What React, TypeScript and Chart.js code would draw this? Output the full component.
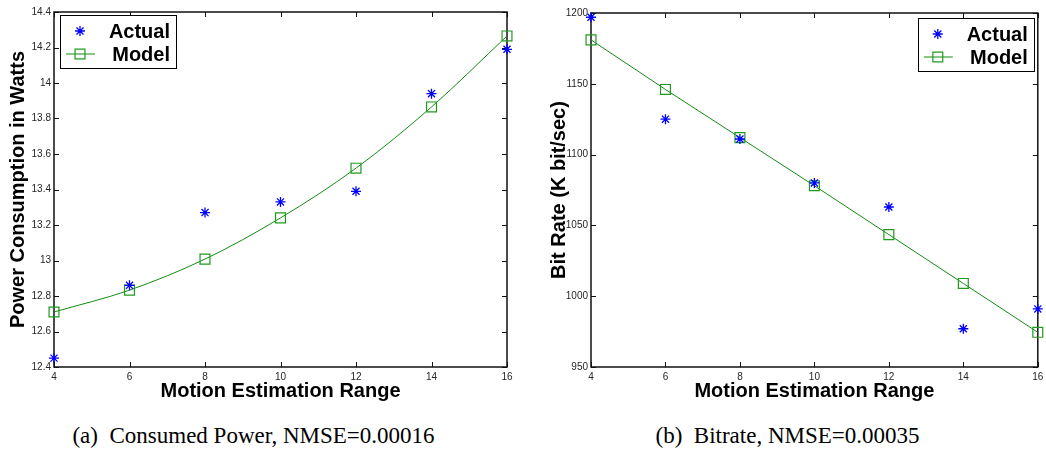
import React, { useEffect, useRef } from 'react';
import { Chart, registerables } from 'chart.js';
import { drawPoint } from 'chart.js/helpers';

Chart.register(...registerables);

// ---- data ----
const xRange = [4, 6, 8, 10, 12, 14, 16];
const xTicks = [4, 6, 8, 10, 12, 14, 16];

const powerActual = [12.45, 12.86, 13.27, 13.33, 13.39, 13.94, 14.19];
const powerModel = [12.71, 12.833, 13.008, 13.24, 13.52, 13.865, 14.265];
const powerTicks = [12.4, 12.6, 12.8, 13, 13.2, 13.4, 13.6, 13.8, 14, 14.2, 14.4];

const bitrateActual = [1197, 1125, 1111, 1080, 1063, 977, 991];
const bitrateModel = [1181, 1146, 1112, 1078, 1043.5, 1009, 974.5];
const bitrateTicks = [950, 1000, 1050, 1100, 1150, 1200];

const seriesLabels = ['Actual', 'Model'];
const xTitle = 'Motion Estimation Range';
const powerTitle = 'Power Consumption in Watts';
const bitrateTitle = 'Bit Rate (K bit/sec)';
const captionA = '(a)\u00a0 Consumed Power, NMSE=0.00016';
const captionB = '(b)\u00a0 Bitrate, NMSE=0.00035';

const SANS = '"Liberation Sans", Arial, sans-serif';
const SERIF = '"Liberation Serif", "Times New Roman", serif';
const BLUE = '#0000ff';
const GREEN_LINE = '#128c12';
const GREEN_MARK = '#1f9a1f';

const frameTicks = {
  id: 'frameTicks',
  beforeDatasetsDraw(chart: any) {
    const { ctx, chartArea: a, scales } = chart;
    const sx = scales.x;
    const sy = scales.y;
    const L = 5;
    ctx.save();
    ctx.strokeStyle = '#111';
    ctx.lineWidth = 1;
    ctx.beginPath();
    sx.ticks.forEach((t: any) => {
      const px = Math.round(sx.getPixelForValue(t.value)) + 0.5;
      ctx.moveTo(px, a.bottom);
      ctx.lineTo(px, a.bottom - L);
      ctx.moveTo(px, a.top);
      ctx.lineTo(px, a.top + L);
    });
    sy.ticks.forEach((t: any) => {
      const py = Math.round(sy.getPixelForValue(t.value)) + 0.5;
      ctx.moveTo(a.left, py);
      ctx.lineTo(a.left + L, py);
      ctx.moveTo(a.right, py);
      ctx.lineTo(a.right - L, py);
    });
    ctx.stroke();
    ctx.lineWidth = 1.5;
    ctx.strokeRect(a.left, a.top, a.right - a.left, a.bottom - a.top);
    ctx.restore();
  },
};

const boxLegend = {
  id: 'boxLegend',
  afterDraw(chart: any, _args: any, opts: any) {
    const { ctx, chartArea: a } = chart;
    const w = 116;
    const h = 53;
    const bx = opts.side === 'right' ? a.right - 4 - w : a.left + 6;
    const by = a.top + (opts.side === 'right' ? 5 : 3);
    ctx.save();
    ctx.fillStyle = '#fff';
    ctx.fillRect(bx, by, w, h);
    ctx.strokeStyle = '#000';
    ctx.lineWidth = 1;
    ctx.strokeRect(Math.round(bx) + 0.5, Math.round(by) + 0.5, w, h);
    chart.data.datasets.forEach((ds: any, i: number) => {
      const cy = by + 16 + i * 23;
      const cx = bx + 20;
      if (ds.showLine) {
        ctx.strokeStyle = ds.borderColor;
        ctx.lineWidth = ds.borderWidth;
        ctx.beginPath();
        ctx.moveTo(bx + 6, cy);
        ctx.lineTo(bx + 35, cy);
        ctx.stroke();
      }
      ctx.strokeStyle = ds.pointBorderColor;
      ctx.fillStyle = 'rgba(0,0,0,0)';
      ctx.lineWidth = ds.pointBorderWidth;
      drawPoint(ctx, { pointStyle: ds.pointStyle, radius: ds.pointRadius, rotation: 0, borderWidth: ds.pointBorderWidth } as any, cx, cy);
      ctx.fillStyle = '#000';
      ctx.font = `bold 20px ${SANS}`;
      ctx.textAlign = 'right';
      ctx.textBaseline = 'middle';
      ctx.fillText(ds.label, bx + w - 6, cy + 1);
    });
    ctx.restore();
  },
};

function makeConfig(
  actual: number[],
  model: number[],
  yTicks: number[],
  yTitle: string,
  side: string,
  pad: any,
  yWidth: number,
  tension: boolean
): any {
  const tickFont = { family: SANS, size: 10 };
  const titleFont = { family: SANS, size: 20, weight: 'bold', lineHeight: 1 };
  return {
    type: 'line',
    data: {
      datasets: [
        {
          label: seriesLabels[0],
          data: xRange.map((x, i) => ({ x, y: actual[i] })),
          showLine: false,
          pointStyle: 'star',
          pointRadius: 5,
          pointHoverRadius: 5,
          pointBorderWidth: 1.3,
          pointBorderColor: BLUE,
          pointBackgroundColor: BLUE,
          borderColor: BLUE,
          clip: false,
        },
        {
          label: seriesLabels[1],
          data: xRange.map((x, i) => ({ x, y: model[i] })),
          showLine: true,
          borderColor: GREEN_LINE,
          borderWidth: 1,
          pointStyle: 'rect',
          pointRadius: 7,
          pointHoverRadius: 7,
          pointBorderWidth: 1.2,
          pointBorderColor: GREEN_MARK,
          pointBackgroundColor: 'rgba(0,0,0,0)',
          cubicInterpolationMode: tension ? 'monotone' : 'default',
          tension: 0,
          fill: false,
          clip: false,
        },
      ],
    },
    options: {
      responsive: false,
      animation: false,
      events: [],
      layout: { padding: pad },
      plugins: {
        legend: { display: false },
        tooltip: { enabled: false },
        boxLegend: { side },
      },
      scales: {
        x: {
          type: 'linear',
          min: xTicks[0],
          max: xTicks[xTicks.length - 1],
          afterBuildTicks: (s: any) => {
            s.ticks = xTicks.map((v) => ({ value: v }));
          },
          afterFit: (s: any) => {
            s.height = 34;
            s.paddingLeft = 0;
            s.paddingRight = 0;
          },
          grid: { display: false, drawTicks: false },
          border: { display: false },
          ticks: {
            font: tickFont,
            color: '#262626',
            padding: 4,
            autoSkip: false,
            maxRotation: 0,
            callback: (v: any) => String(v),
          },
          title: { display: true, text: xTitle, font: titleFont, color: '#000', padding: 0 },
        },
        y: {
          type: 'linear',
          min: yTicks[0],
          max: yTicks[yTicks.length - 1],
          afterBuildTicks: (s: any) => {
            s.ticks = yTicks.map((v) => ({ value: v }));
          },
          afterFit: (s: any) => {
            s.width = yWidth;
            s.paddingTop = 0;
            s.paddingBottom = 0;
          },
          grid: { display: false, drawTicks: false },
          border: { display: false },
          ticks: {
            font: tickFont,
            color: '#262626',
            padding: 3,
            autoSkip: false,
            callback: (v: any) => String(v),
          },
          title: { display: true, text: yTitle, font: titleFont, color: '#000', padding: 0 },
        },
      },
    },
    plugins: [frameTicks, boxLegend],
  };
}

function ChartCanvas({ config, left }: { config: any; left: number }) {
  const ref = useRef<HTMLCanvasElement | null>(null);
  useEffect(() => {
    if (!ref.current) return;
    const chart = new Chart(ref.current, config);
    return () => chart.destroy();
  }, [config]);
  return (
    <canvas
      ref={ref}
      width={523}
      height={410}
      style={{ position: 'absolute', left, top: 0, width: 523, height: 410 }}
    />
  );
}

const configA = makeConfig(powerActual, powerModel, powerTicks, powerTitle, 'left', { left: 8, top: 12, right: 16, bottom: 9 }, 46, true);
const configB = makeConfig(bitrateActual, bitrateModel, bitrateTicks, bitrateTitle, 'right', { left: 26, top: 13, right: 6, bottom: 9 }, 42, false);

export default function App() {
  const capStyle: React.CSSProperties = {
    position: 'absolute',
    top: 424,
    width: 500,
    textAlign: 'center',
    fontFamily: SERIF,
    fontSize: 23,
    lineHeight: '23px',
    color: '#000',
    whiteSpace: 'nowrap',
  };
  return (
    <div style={{ position: 'fixed', left: 0, top: 0, width: 1046, height: 452, background: '#fff', overflow: 'hidden' }}>
      <ChartCanvas config={configA} left={0} />
      <ChartCanvas config={configB} left={523} />
      <div style={{ ...capStyle, left: 253.5 - 250 }}>{captionA}</div>
      <div style={{ ...capStyle, left: 787.5 - 250 }}>{captionB}</div>
    </div>
  );
}
